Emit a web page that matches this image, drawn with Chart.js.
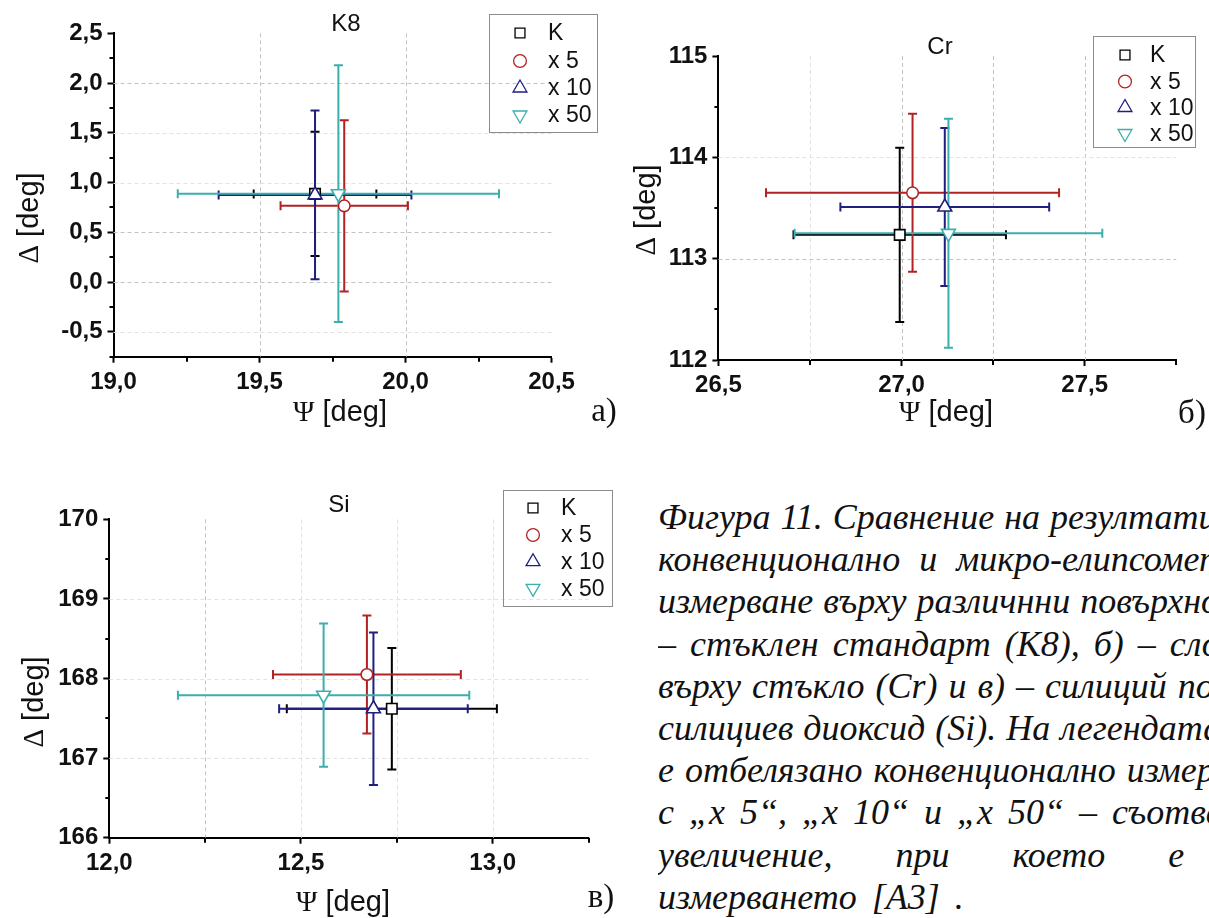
<!DOCTYPE html>
<html lang="bg">
<head>
<meta charset="UTF-8" />
<title>Фигура 11 – елипсометрия</title>
<script src="https://cdn.jsdelivr.net/npm/chart.js"></script>
<style>
  body { margin: 0; background: #fff; }
  .page { position: relative; width: 1209px; height: 918px; overflow: hidden; background: #fff; }
  .page canvas { position: absolute; }
  .caption { position: absolute; left: 658px; top: 496px; width: 551px; overflow: hidden;
    font-family: "Liberation Serif", "Times New Roman", serif; font-style: italic;
    font-size: 36px; line-height: 42.2px; color: #111; }
  .caption div { white-space: nowrap; }
</style>
</head>
<body>
<div class="page">
  <canvas id="k8Chart" style="left:0;top:0" width="620" height="440"></canvas>
  <canvas id="crChart" style="left:620px;top:0" width="589" height="440"></canvas>
  <canvas id="siChart" style="left:0;top:450px" width="620" height="468"></canvas>

  <!-- текст към фигурата -->
  <div class="caption">
    <div style="word-spacing:1px">Фигура 11. Сравнение на резултатите от</div>
    <div style="word-spacing:10px">конвенционално и микро-елипсометрично</div>
    <div style="word-spacing:1px">измерване върху различнни повърхности: а)</div>
    <div style="word-spacing:5px">– стъклен стандарт (K8), б) – слой хром</div>
    <div style="word-spacing:2px">върху стъкло (Cr) и в) – силиций покрит с</div>
    <div style="word-spacing:1px">силициев диоксид (Si). На легендата с „К“</div>
    <div style="word-spacing:2px">е отбелязано конвенционално измерване, а</div>
    <div style="word-spacing:6px">с „x 5“, „x 10“ и „x 50“ – съответното</div>
    <div style="word-spacing:54px">увеличение, при което е извършено</div>
    <div style="word-spacing:6px">измерването [A3] .</div>
  </div>
</div>

<script>
  // Серии (общи за трите графики)
  const seriesNames = ['K', 'x 5', 'x 10', 'x 50'];
  const seriesColors = ['#000000', '#b22222', '#1f1f80', '#3aafad'];
  const seriesMarkers = ['rect', 'circle', 'triangle', 'triangle'];
  const markerRotation = [0, 0, 0, 180];
  const markerRadius = [7.4, 5.8, 8, 8];

  // а) K8
  const k8Psi = [19.69, 19.79, 19.69, 19.77];
  const k8Delta = [0.886, 0.766, 0.876, 0.888];
  const k8PsiErr = [0.21, 0.218, 0.33, 0.55];
  const k8DeltaErr = [0.625, 0.86, 0.848, 1.29];
  const k8XTicks = [19.0, 19.5, 20.0, 20.5];
  const k8YTicks = [-0.5, 0.0, 0.5, 1.0, 1.5, 2.0, 2.5];

  // б) Cr
  const crPsi = [26.995, 27.03, 27.118, 27.128];
  const crDelta = [113.235, 113.65, 113.51, 113.25];
  const crPsiErr = [0.29, 0.40, 0.285, 0.42];
  const crDeltaErr = [0.86, 0.78, 0.78, 1.13];
  const crXTicks = [26.5, 27.0, 27.5];
  const crYTicks = [112, 113, 114, 115];

  // в) Si
  const siPsi = [12.737, 12.672, 12.689, 12.559];
  const siDelta = [167.62, 168.05, 167.62, 167.79];
  const siPsiErr = [0.274, 0.245, 0.246, 0.38];
  const siDeltaErr = [0.763, 0.74, 0.957, 0.90];
  const siXTicks = [12.0, 12.5, 13.0];
  const siYTicks = [166, 167, 168, 169, 170];

  const tickFont = { family: '"Liberation Sans", Arial, sans-serif', size: 24, weight: 'bold' };
  const comma1 = v => v.toFixed(1).replace('.', ',');
  const whole = v => String(Math.round(v));

  function buildDatasets(psi, delta) {
    return seriesNames.map((name, i) => ({
      label: name,
      data: [{ x: psi[i], y: delta[i] }],
      pointStyle: seriesMarkers[i],
      pointRotation: markerRotation[i],
      pointRadius: markerRadius[i],
      pointHoverRadius: markerRadius[i],
      pointBackgroundColor: '#ffffff',
      pointBorderColor: seriesColors[i],
      pointBorderWidth: 1.6,
      order: seriesNames.length - i
    }));
  }

  // маркер като в Chart.js (за легендата)
  function marker(ctx, style, rot, r, x, y) {
    ctx.beginPath();
    if (style === 'rect') {
      const s = r * Math.SQRT1_2;
      ctx.rect(x - s, y - s, 2 * s, 2 * s);
    } else if (style === 'circle') {
      ctx.arc(x, y, r, 0, Math.PI * 2);
    } else {
      const d = rot ? -1 : 1;
      ctx.moveTo(x, y - d * r);
      ctx.lineTo(x + r * 0.866, y + d * r / 2);
      ctx.lineTo(x - r * 0.866, y + d * r / 2);
      ctx.closePath();
    }
    ctx.fill();
    ctx.stroke();
  }

  function symbolTitle(ctx, cx, cy, sym, rest, rotate) {
    ctx.save();
    ctx.translate(cx, cy);
    if (rotate) ctx.rotate(-Math.PI / 2);
    const symFont = '29px "Liberation Serif", serif';
    const restFont = '29px "Liberation Sans", Arial, sans-serif';
    ctx.font = symFont;
    const w1 = ctx.measureText(sym).width;
    ctx.font = restFont;
    const w2 = ctx.measureText(rest).width;
    const start = -(w1 + w2) / 2;
    ctx.fillStyle = '#111';
    ctx.textBaseline = 'middle';
    ctx.textAlign = 'left';
    ctx.font = symFont;
    ctx.fillText(sym, start, 0);
    ctx.font = restFont;
    ctx.fillText(rest, start + w1, 0);
    ctx.restore();
  }

  // грид, грешки, второстепенни черти, легенда и надписи
  function decor(id, psiErr, deltaErr, spec) {
    return {
      id: id,
      beforeDatasetsDraw(chart) {
        const { ctx, chartArea: a, scales: { x, y } } = chart;
        ctx.save();
        ctx.lineWidth = 1;
        ctx.setLineDash([4, 3]);
        spec.xGrid.forEach(g => {
          const px = Math.round(x.getPixelForValue(g[0])) + 0.5;
          ctx.strokeStyle = g[1];
          ctx.beginPath(); ctx.moveTo(px, a.top); ctx.lineTo(px, a.bottom); ctx.stroke();
        });
        spec.yGrid.forEach(g => {
          const py = Math.round(y.getPixelForValue(g[0])) + 0.5;
          ctx.strokeStyle = g[1];
          ctx.beginPath(); ctx.moveTo(a.left, py); ctx.lineTo(a.right, py); ctx.stroke();
        });
        ctx.setLineDash([]);
        // error bars
        ctx.lineWidth = 2;
        const cap = 4.5;
        chart.data.datasets.forEach((ds, i) => {
          const p = ds.data[0];
          const px = x.getPixelForValue(p.x), py = y.getPixelForValue(p.y);
          const xl = x.getPixelForValue(p.x - psiErr[i]), xr = x.getPixelForValue(p.x + psiErr[i]);
          const yt = y.getPixelForValue(p.y + deltaErr[i]), yb = y.getPixelForValue(p.y - deltaErr[i]);
          ctx.strokeStyle = seriesColors[i];
          ctx.beginPath();
          ctx.moveTo(xl, py); ctx.lineTo(xr, py);
          ctx.moveTo(xl, py - cap); ctx.lineTo(xl, py + cap);
          ctx.moveTo(xr, py - cap); ctx.lineTo(xr, py + cap);
          ctx.moveTo(px, yt); ctx.lineTo(px, yb);
          ctx.moveTo(px - cap, yt); ctx.lineTo(px + cap, yt);
          ctx.moveTo(px - cap, yb); ctx.lineTo(px + cap, yb);
          ctx.stroke();
        });
        ctx.restore();
      },
      afterDraw(chart) {
        const { ctx, chartArea: a, scales: { x, y } } = chart;
        ctx.save();
        // minor ticks
        ctx.strokeStyle = '#000';
        ctx.lineWidth = 2;
        ctx.beginPath();
        spec.xMinor.forEach(v => {
          const px = Math.round(x.getPixelForValue(v));
          ctx.moveTo(px, a.bottom); ctx.lineTo(px, a.bottom + 5);
        });
        spec.yMinor.forEach(v => {
          const py = Math.round(y.getPixelForValue(v));
          ctx.moveTo(a.left - 4, py); ctx.lineTo(a.left, py);
        });
        ctx.stroke();

        // title
        ctx.fillStyle = '#111';
        ctx.font = '24px "Liberation Sans", Arial, sans-serif';
        ctx.textAlign = 'center';
        ctx.textBaseline = 'middle';
        ctx.fillText(spec.title[0], spec.title[1], spec.title[2]);

        // legend
        const L = spec.legend;
        ctx.strokeStyle = '#8c8c8c';
        ctx.lineWidth = 1;
        ctx.strokeRect(L.x1 + 0.5, L.y1 + 0.5, L.x2 - L.x1, L.y2 - L.y1);
        ctx.textAlign = 'left';
        ctx.font = '23px "Liberation Sans", Arial, sans-serif';
        seriesNames.forEach((name, i) => {
          const ry = L.rows[i];
          ctx.fillStyle = '#ffffff';
          ctx.strokeStyle = seriesColors[i];
          ctx.lineWidth = 1.3;
          marker(ctx, seriesMarkers[i], markerRotation[i], [7, 6.4, 8, 8][i], L.mx, ry);
          ctx.fillStyle = '#111';
          ctx.fillText(name, L.tx, ry + 1);
        });

        // axis titles and panel letter
        symbolTitle(ctx, spec.xTitle[0], spec.xTitle[1], 'Ψ', ' [deg]', false);
        symbolTitle(ctx, spec.yTitle[0], spec.yTitle[1], 'Δ', ' [deg]', true);
        ctx.fillStyle = '#111';
        ctx.font = '33px "Liberation Serif", "Times New Roman", serif';
        ctx.textAlign = 'center';
        ctx.textBaseline = 'middle';
        ctx.fillText(spec.panel[0], spec.panel[1], spec.panel[2]);
        ctx.restore();
      }
    };
  }

  function axisOpts(min, max, ticks, fmt, fitKey, fitVal) {
    return {
      type: 'linear',
      min: min,
      max: max,
      afterBuildTicks: s => { s.ticks = ticks.map(v => ({ value: v })); },
      afterFit: s => { s[fitKey] = fitVal; },
      border: { display: true, color: '#000', width: 2 },
      grid: { display: true, drawOnChartArea: false, drawTicks: true, tickLength: 6, tickColor: '#000', tickWidth: 2 },
      ticks: { autoSkip: false, maxRotation: 0, color: '#111', font: tickFont, padding: 5, callback: fmt }
    };
  }

  function makeChart(canvasId, psi, delta, xAxis, yAxis, padding, plugin) {
    return new Chart(document.getElementById(canvasId), {
      type: 'scatter',
      data: { datasets: buildDatasets(psi, delta) },
      options: {
        responsive: false,
        animation: false,
        events: [],
        devicePixelRatio: 1,
        layout: { padding: padding },
        scales: { x: xAxis, y: yAxis },
        plugins: { legend: { display: false }, tooltip: { enabled: false } }
      },
      plugins: [plugin]
    });
  }

  const gridDark = '#c4c4c4';
  const gridLight = '#e2e2e2';

  // а) K8
  makeChart('k8Chart', k8Psi, k8Delta,
    axisOpts(19.0, 20.5, k8XTicks, comma1, 'height', 83.3),
    axisOpts(-0.75, 2.5, k8YTicks, comma1, 'width', 113.5),
    { left: 0, top: 33.3, right: 68.4, bottom: 0 },
    decor('k8Decor', k8PsiErr, k8DeltaErr, {
      xGrid: [[19.5, gridDark], [20.0, gridDark]],
      yGrid: [[-0.5, gridLight], [0.0, gridDark], [0.5, gridDark], [1.0, gridLight], [1.5, gridLight], [2.0, gridDark]],
      xMinor: [19.25, 19.75, 20.25],
      yMinor: [-0.75, -0.25, 0.25, 0.75, 1.25, 1.75, 2.25],
      title: ['K8', 346, 24],
      legend: { x1: 489, y1: 14, x2: 597, y2: 132, mx: 520, tx: 548, rows: [33, 61, 88, 115] },
      xTitle: [340, 413],
      yTitle: [30, 218],
      panel: ['a)', 604, 412]
    }));

  // б) Cr
  makeChart('crChart', crPsi, crDelta,
    axisOpts(26.5, 27.75, crXTicks, comma1, 'height', 80),
    axisOpts(112, 115, crYTicks, whole, 'width', 98.4),
    { left: 0, top: 56, right: 32.7, bottom: 0 },
    decor('crDecor', crPsiErr, crDeltaErr, {
      xGrid: [[26.75, gridLight], [27.0, gridDark], [27.25, gridDark], [27.5, gridDark]],
      yGrid: [[113, gridDark], [114, gridLight]],
      xMinor: [26.75, 27.25, 27.75],
      yMinor: [112.5, 113.5, 114.5],
      title: ['Cr', 320, 47],
      legend: { x1: 473, y1: 36, x2: 575, y2: 147, mx: 505, tx: 530, rows: [55, 81.5, 107.5, 133.5] },
      xTitle: [326, 413],
      yTitle: [27, 210],
      panel: ['б)', 572, 414]
    }));

  // в) Si
  makeChart('siChart', siPsi, siDelta,
    axisOpts(12.0, 13.25, siXTicks, comma1, 'height', 80.3),
    axisOpts(166, 170, siYTicks, whole, 'width', 109.3),
    { left: 0, top: 69.3, right: 31.5, bottom: 0 },
    decor('siDecor', siPsiErr, siDeltaErr, {
      xGrid: [[12.25, gridDark], [12.5, gridLight], [12.75, gridLight], [13.0, gridLight]],
      yGrid: [[167, gridLight], [168, gridLight], [169, gridLight]],
      xMinor: [12.25, 12.75, 13.25],
      yMinor: [166.5, 167.5, 168.5, 169.5],
      title: ['Si', 339, 55],
      legend: { x1: 503, y1: 40, x2: 612, y2: 156, mx: 533, tx: 561, rows: [58, 85, 111.7, 138.3] },
      xTitle: [343, 453],
      yTitle: [35, 252],
      panel: ['в)', 601, 448]
    }));
</script>
</body>
</html>
